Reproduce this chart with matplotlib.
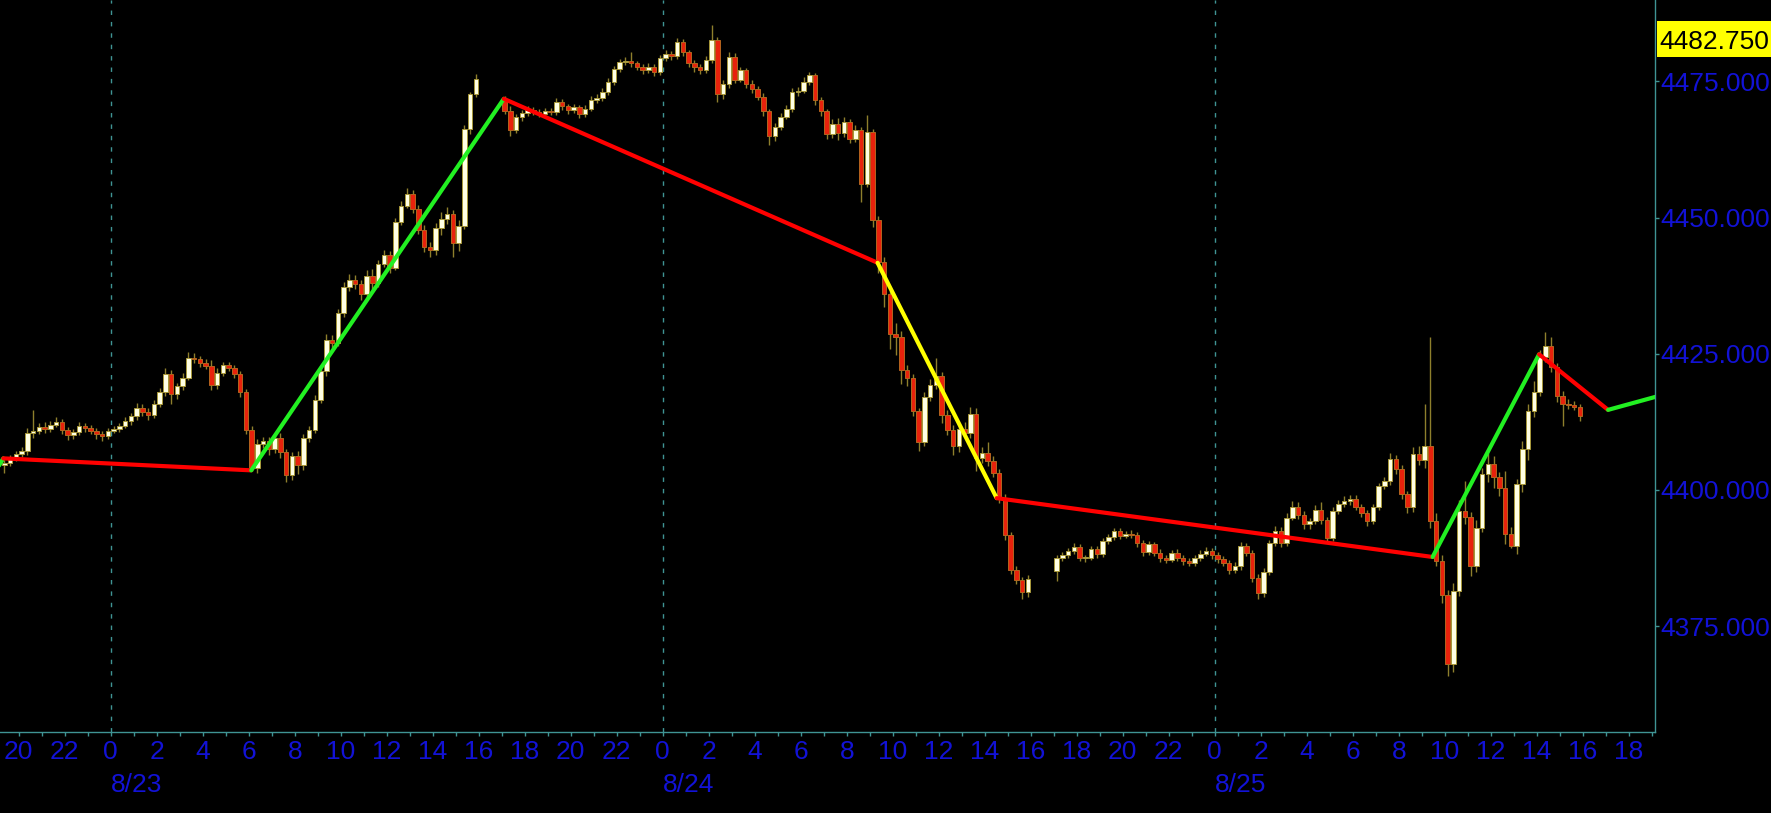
import numpy as np
import matplotlib
matplotlib.use('Agg')
import matplotlib.pyplot as plt
import matplotlib.transforms as mtransforms
from matplotlib.patches import Rectangle

# 15 min bars, x = hours from 8/23 00:00, three sessions (17:00 -> 16:00)
sess_start = [-4.75, 17.0, 41.0]
sess_open = [4404.6, 4471.8, 4385.2]

close_1 = [
    4405.0, 4405.8, 4406.6,
    4407.2, 4410.5, 4410.9, 4411.6,
    4411.2, 4412.0, 4412.5, 4411.0,
    4410.0, 4410.6, 4411.8, 4411.4,
    4410.9, 4410.2, 4409.9, 4410.9,
    4411.2, 4411.8, 4412.6, 4413.5,
    4415.0, 4414.4, 4413.8, 4415.8,
    4418.0, 4421.2, 4417.6, 4419.0,
    4420.6, 4424.3, 4424.0, 4423.3,
    4422.8, 4419.3, 4421.5, 4422.9,
    4422.4, 4421.3, 4418.0, 4411.0,
    4404.0, 4408.5, 4409.0, 4407.5,
    4409.5, 4407.0, 4402.8, 4406.2,
    4404.5, 4409.5, 4411.0, 4416.5,
    4421.8, 4427.5, 4427.0, 4432.5,
    4437.2, 4438.5, 4437.8, 4436.0,
    4439.3, 4438.0, 4441.5, 4443.2,
    4440.8, 4449.2, 4452.2, 4454.4,
    4451.6, 4447.8, 4444.6, 4444.0,
    4448.0, 4449.8, 4450.6, 4445.3,
    4448.5, 4466.3, 4472.6, 4475.5,
]
up_1 = [
    0.5, 0.6, 0.5,
    0.6, 0.8, 3.8, 0.6,
    0.9, 0.7, 0.8, 0.6,
    0.5, 0.6, 0.7, 0.5,
    0.6, 0.5, 0.6, 0.5,
    0.6, 0.5, 0.7, 0.6,
    0.9, 0.8, 0.6, 0.7,
    0.8, 1.2, 0.9, 0.7,
    0.8, 1.0, 0.9, 0.6,
    0.7, 1.1, 0.8, 0.6,
    0.6, 0.5, 0.6, 0.5,
    0.7, 0.9, 0.8, 0.7,
    0.8, 0.9, 0.6, 0.8,
    0.9, 0.7, 0.8, 0.9,
    0.8, 1.1, 1.0, 0.8,
    0.9, 1.2, 1.0, 0.8,
    1.1, 1.3, 0.8, 0.9,
    0.7, 0.8, 0.9, 1.0,
    0.6, 0.7, 0.8, 0.9,
    1.0, 1.2, 1.3, 0.8,
    1.0, 0.6, 0.5, 0.8,
]
dn_1 = [
    1.5, 0.6, 0.5,
    0.6, 0.7, 0.9, 0.6,
    0.7, 0.6, 0.5, 0.8,
    0.9, 0.7, 0.6, 0.7,
    0.6, 0.8, 0.9, 0.6,
    0.5, 0.6, 0.5, 0.7,
    0.6, 0.8, 0.9, 0.6,
    0.5, 0.7, 1.8, 0.9,
    0.6, 0.5, 0.7, 0.8,
    0.6, 1.0, 0.8, 0.5,
    0.6, 0.7, 0.9, 0.8,
    0.6, 0.9, 0.8, 1.0,
    0.7, 1.1, 1.3, 0.9,
    1.5, 0.8, 0.7, 0.6,
    0.5, 0.9, 1.0, 0.6,
    0.8, 0.7, 1.0, 1.2,
    0.9, 1.1, 0.7, 0.6,
    1.0, 0.5, 0.6, 0.5,
    0.7, 0.9, 1.0, 1.3,
    0.8, 1.2, 0.9, 2.6,
    1.5, 0.6, 1.0, 0.5,
]

close_2 = [
    4469.6, 4466.0, 4468.4, 4469.2,
    4469.8, 4469.4, 4469.0, 4469.6,
    4469.4, 4471.2, 4470.4, 4469.7,
    4470.2, 4469.0, 4470.0, 4471.6,
    4472.0, 4473.0, 4474.9, 4477.3,
    4478.6, 4478.8, 4478.3, 4477.6,
    4477.0, 4477.6, 4476.7, 4479.2,
    4480.1, 4479.6, 4482.2, 4480.3,
    4478.3, 4477.6, 4477.0, 4478.9,
    4482.6, 4472.7, 4474.5, 4479.5,
    4475.3, 4477.0, 4474.6, 4473.6,
    4472.2, 4469.5, 4465.0, 4466.6,
    4468.5, 4470.0, 4473.0, 4473.3,
    4474.9, 4476.1, 4471.5, 4469.5,
    4465.4, 4467.2, 4465.6, 4467.5,
    4464.5, 4466.0, 4456.2, 4465.7,
    4449.5, 4441.8, 4436.0, 4428.6,
    4428.0, 4422.0, 4420.6, 4414.5,
    4408.8, 4417.0, 4419.2, 4421.0,
    4413.8, 4411.0, 4408.0, 4411.2,
    4410.5, 4413.9, 4405.9, 4406.8,
    4405.3, 4403.2, 4398.6, 4391.8,
    4385.4, 4383.5, 4381.2, 4383.6,
]
up_2 = [
    0.5, 0.8, 0.6, 0.5,
    0.6, 0.5, 0.6, 0.5,
    0.5, 0.7, 0.6, 0.5,
    0.6, 0.5, 0.6, 0.7,
    0.6, 0.7, 0.8, 0.6,
    0.5, 0.6, 1.6, 0.5,
    0.6, 0.8, 0.5, 0.7,
    0.6, 0.5, 0.7, 0.6,
    0.5, 0.6, 0.5, 0.7,
    2.7, 0.6, 0.8, 0.9,
    0.7, 0.6, 0.5, 0.6,
    0.5, 0.6, 0.5, 0.7,
    0.6, 0.7, 0.8, 0.6,
    0.9, 0.6, 0.5, 0.6,
    0.5, 0.8, 1.0, 0.9,
    0.6, 0.9, 0.6, 3.1,
    0.5, 0.8, 1.0, 0.7,
    2.0, 1.2, 1.0, 0.6,
    0.5, 1.0, 1.2, 3.3,
    0.6, 0.8, 0.9, 1.0,
    1.2, 1.4, 1.1, 1.0,
    2.0, 0.9, 0.6, 0.7,
    0.5, 0.6, 0.5, 0.7,
]
dn_2 = [
    0.6, 1.0, 0.5, 0.6,
    0.5, 0.6, 0.5, 0.6,
    0.6, 0.5, 0.6, 0.7,
    0.5, 0.8, 0.6, 0.5,
    0.5, 0.6, 0.5, 0.6,
    0.5, 0.6, 0.7, 0.5,
    0.6, 0.5, 0.8, 0.6,
    0.5, 0.6, 0.5, 0.7,
    0.6, 0.8, 0.6, 0.5,
    0.6, 1.5, 0.9, 0.7,
    0.6, 0.5, 0.9, 0.7,
    0.6, 0.8, 1.7, 0.9,
    0.6, 0.5, 0.6, 0.7,
    0.5, 0.6, 0.8, 0.9,
    1.0, 0.8, 1.3, 0.9,
    0.9, 0.7, 3.4, 0.6,
    1.2, 2.0, 2.5, 2.8,
    3.2, 2.5, 1.5, 1.0,
    1.6, 0.8, 0.7, 0.6,
    1.5, 1.0, 1.6, 1.0,
    0.8, 0.9, 2.5, 1.0,
    0.9, 0.8, 1.0, 0.9,
    0.8, 0.7, 1.2, 0.8,
]

close_3 = [
    4387.5, 4388.0, 4388.8, 4389.5,
    4387.6, 4387.6, 4389.2, 4388.2,
    4390.6, 4391.4, 4392.5, 4391.6,
    4392.0, 4391.8, 4390.3, 4388.6,
    4390.0, 4388.5, 4387.5, 4387.2,
    4388.5, 4387.6, 4387.0, 4386.6,
    4387.6, 4388.3, 4388.8, 4388.0,
    4387.3, 4386.6, 4385.4, 4386.0,
    4389.7, 4388.5, 4383.9, 4381.0,
    4385.0, 4390.3, 4392.5, 4390.3,
    4394.9, 4396.8, 4395.4, 4393.7,
    4394.3, 4396.4, 4394.5, 4391.2,
    4396.1, 4397.4, 4398.0, 4398.4,
    4396.9, 4395.8, 4394.3, 4396.8,
    4400.7, 4401.7, 4405.7, 4403.8,
    4399.2, 4396.8, 4406.6, 4405.5,
    4408.0, 4394.3, 4387.0, 4380.8,
    4368.0, 4381.5, 4396.2, 4395.0,
    4386.0, 4393.0, 4402.9, 4404.7,
    4402.3, 4400.4, 4392.0, 4389.7,
    4401.1, 4407.5, 4414.5, 4418.0,
    4424.4, 4426.5, 4422.5, 4417.3,
    4415.8, 4415.6, 4415.2, 4413.6,
]
up_3 = [
    0.5, 0.6, 0.5, 0.8,
    0.6, 0.5, 0.6, 0.5,
    0.6, 0.5, 0.6, 0.5,
    0.5, 0.6, 0.5, 0.6,
    0.6, 0.5, 0.6, 0.5,
    0.5, 0.6, 0.5, 0.6,
    0.5, 0.6, 0.7, 0.5,
    0.6, 0.5, 0.6, 0.7,
    0.8, 0.6, 0.5, 0.6,
    0.7, 0.6, 0.8, 0.7,
    0.8, 1.2, 0.9, 0.7,
    0.6, 0.8, 1.4, 0.6,
    0.7, 0.8, 0.9, 0.7,
    0.6, 0.5, 0.6, 0.7,
    0.6, 0.7, 1.0, 0.8,
    0.8, 0.6, 1.2, 1.5,
    7.8, 20.0, 1.5, 1.0,
    0.8, 1.5, 2.0, 5.5,
    1.0, 1.5, 1.2, 2.0,
    1.5, 1.0, 3.0, 1.2,
    1.0, 1.4, 1.2, 2.0,
    1.2, 2.5, 1.5, 0.8,
    0.8, 0.9, 0.7, 0.6,
]
dn_3 = [
    2.0, 0.6, 0.5, 0.6,
    0.7, 0.8, 0.5, 0.6,
    0.5, 0.6, 0.5, 0.6,
    0.5, 0.6, 0.7, 0.8,
    0.6, 0.7, 0.8, 0.6,
    0.5, 0.6, 0.7, 0.6,
    0.5, 0.6, 0.5, 0.6,
    0.7, 0.6, 0.9, 0.6,
    0.6, 0.7, 0.8, 1.1,
    0.7, 0.6, 0.5, 0.8,
    0.6, 0.5, 0.7, 0.8,
    0.9, 0.6, 0.7, 1.0,
    0.6, 0.5, 0.6, 0.7,
    0.6, 0.7, 0.9, 0.6,
    0.5, 0.6, 0.7, 0.8,
    0.9, 1.0, 0.8, 0.9,
    1.5, 1.2, 0.9, 1.5,
    2.2, 1.5, 1.0, 1.2,
    1.8, 1.0, 0.8, 1.5,
    2.0, 1.6, 2.0, 0.4,
    1.5, 1.5, 2.0, 1.2,
    0.8, 0.9, 0.8, 1.2,
    4.0, 0.7, 0.6, 0.9,
]

# zigzag overlay
zz_t = [-5.2, -4.67, 6.11, 17.09, 33.34, 38.52, 57.47, 62.1, 65.1, 67.6]
zz_p = [4402.0, 4405.8, 4403.6, 4471.8, 4441.7, 4398.5, 4387.7, 4424.9, 4414.7, 4417.6]
zz_col = ['#22F022', '#FF0000', '#22F022', '#FF0000', '#FFFF00',
          '#FF0000', '#22F022', '#FF0000', '#22F022']

hour_ticks = np.arange(-4, 67, 2)
day_starts = [0, 24, 48]
day_labels = ['8/23', '8/24', '8/25']
price_ticks = [4375, 4400, 4425, 4450, 4475]
last_mark = 4482.75

teal = '#3F9494'
blue = '#1212D6'
font = ['Liberation Sans', 'DejaVu Sans']
fsize = 19

# build OHLC
xs, o_all, c_all, h_all, l_all = [], [], [], [], []
for st, op, cl, up, dn in zip(sess_start, sess_open,
                              [close_1, close_2, close_3],
                              [up_1, up_2, up_3], [dn_1, dn_2, dn_3]):
    opens = [op] + cl[:-1]
    for k in range(len(cl)):
        xs.append(st + 0.25 * k + 0.125)
        o_all.append(opens[k])
        c_all.append(cl[k])
        h_all.append(max(opens[k], cl[k]) + up[k])
        l_all.append(min(opens[k], cl[k]) - dn[k])
xs = np.array(xs)
o_all = np.array(o_all)
c_all = np.array(c_all)
rise = c_all >= o_all

fig = plt.figure(figsize=(17.71, 8.13), dpi=100, facecolor='black')
ax = fig.add_axes([0, 0.1002, 0.9345, 0.8998])
ax.set_facecolor('black')

for t in day_starts:
    ax.axvline(t, color=teal, lw=1.0, ls=(0, (3.2, 5)), zorder=1)

ax.vlines(xs, l_all, h_all, color='#8E7F2C', lw=1.0, zorder=2)
body_lo = np.minimum(o_all, c_all)
body_h = np.maximum(np.abs(c_all - o_all), 0.15)
ax.bar(xs[rise], body_h[rise], bottom=body_lo[rise], width=0.19,
       color='#FFFFE4', edgecolor='#A8983A', linewidth=0.7, zorder=3)
ax.bar(xs[~rise], body_h[~rise], bottom=body_lo[~rise], width=0.19,
       color='#E8220C', edgecolor='#B4641E', linewidth=0.7, zorder=3)

for i in range(len(zz_col)):
    ax.plot(zz_t[i:i + 2], zz_p[i:i + 2], color=zz_col[i], lw=3.0,
            solid_capstyle='round', zorder=5)

ax.set_xlim(-4.813, 67.14)
ax.set_ylim(4355.66, 4489.93)

for s in ['top', 'left']:
    ax.spines[s].set_visible(False)
for s in ['right', 'bottom']:
    ax.spines[s].set_color(teal)
    ax.spines[s].set_linewidth(1.0)

ax.yaxis.tick_right()
ax.set_yticks(price_ticks)
ax.set_yticklabels(['%.3f' % p for p in price_ticks])
ax.set_xticks(hour_ticks)
ax.set_xticklabels([str(int(h) % 24) for h in hour_ticks])
ax.set_xticks(np.arange(-4, 68, 1), minor=True)
ax.tick_params(axis='both', which='both', colors=teal, labelcolor=blue,
               length=3, width=1, direction='out', labelsize=fsize)
ax.tick_params(axis='y', pad=1)
ax.tick_params(axis='x', pad=3)
for lab in ax.get_xticklabels() + ax.get_yticklabels():
    lab.set_family(font)

trans = mtransforms.blended_transform_factory(ax.transData, ax.transAxes)
for t, lab in zip(day_starts, day_labels):
    ax.text(t, -0.0731, lab, transform=trans, ha='left', va='center',
            color=blue, fontsize=fsize, family=font)

# last price box
trans_y = mtransforms.blended_transform_factory(ax.transAxes, ax.transData)
ax.add_patch(Rectangle((1.0012, last_mark - 3.3), 0.0702, 6.6,
                       transform=trans_y, facecolor='#FFFF00',
                       edgecolor='none', clip_on=False, zorder=6))
ax.text(1.0025, last_mark, '%.3f' % last_mark, transform=trans_y,
        ha='left', va='center_baseline', color='black', fontsize=fsize,
        family=font, zorder=7)

fig.savefig('out.png', dpi=100, facecolor='black')
